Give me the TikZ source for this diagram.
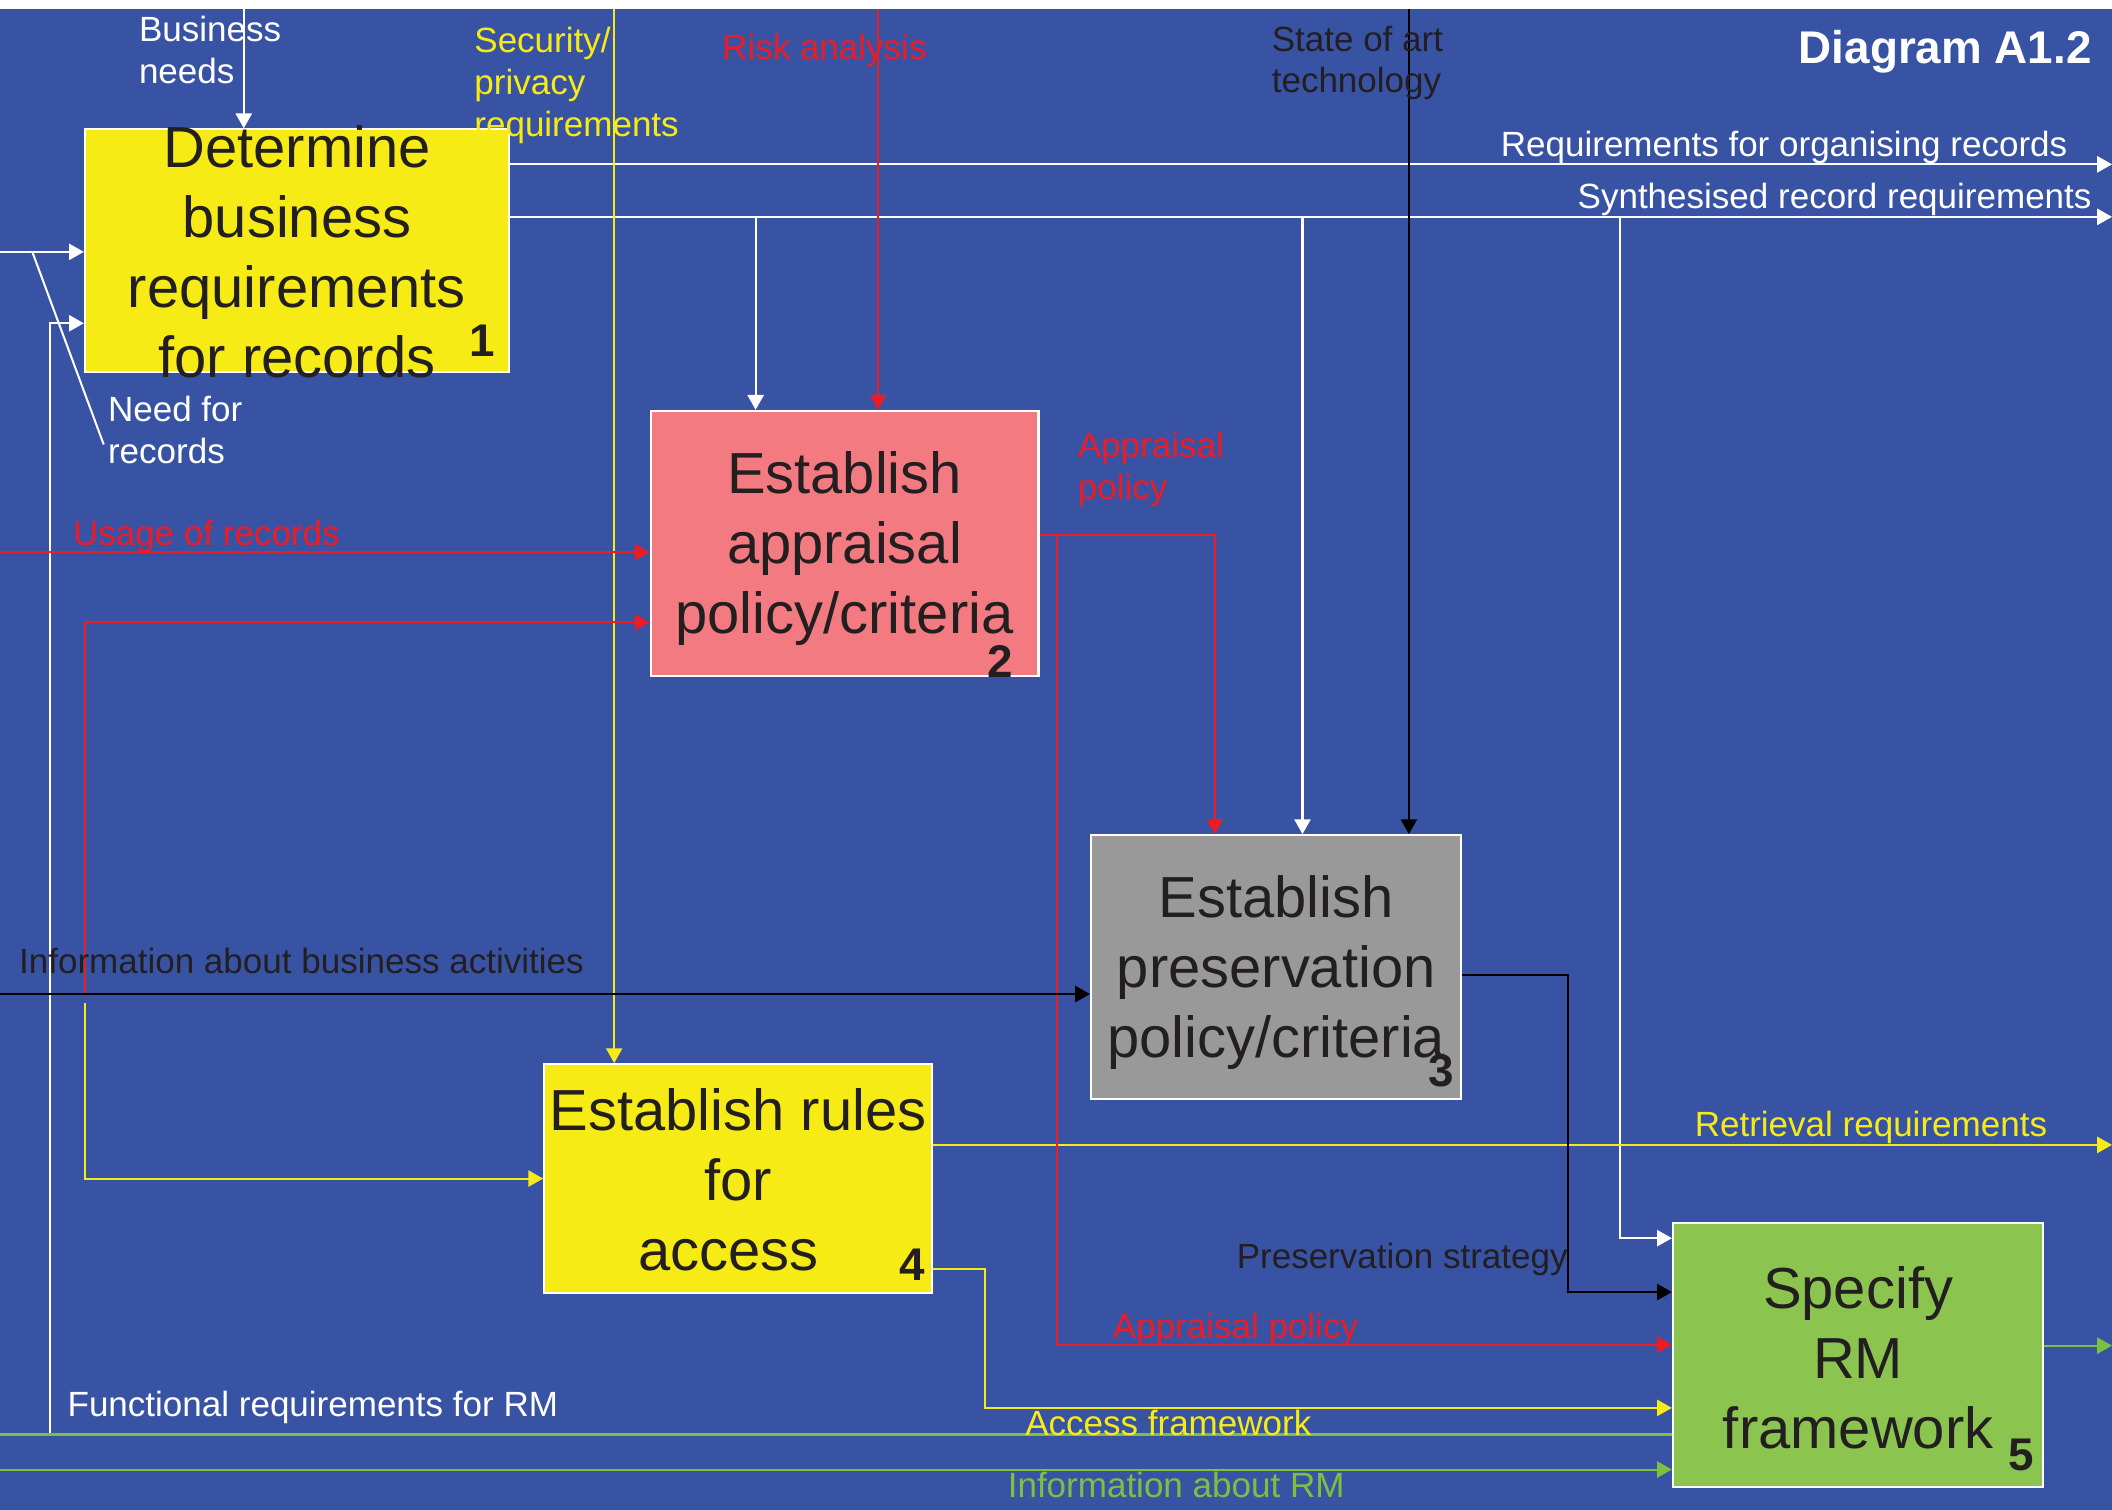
\documentclass[tikz,border=0pt]{standalone}
\usepackage{fontspec}
\setmainfont{Liberation Sans}
\usetikzlibrary{arrows.meta}
\usetikzlibrary{positioning, calc}

\definecolor{boardblue}{RGB}{57,83,164}
\definecolor{actyellow}{RGB}{246,235,20}
\definecolor{actpink}{RGB}{242,122,128}
\definecolor{actgrey}{RGB}{153,153,153}
\definecolor{actgreen}{RGB}{139,197,80}
\definecolor{flowred}{RGB}{237,28,36}
\definecolor{flowyellow}{RGB}{246,235,20}
\definecolor{flowgreen}{RGB}{122,193,66}
\definecolor{ink}{RGB}{35,31,32}

\begin{document}
\begin{tikzpicture}[x=1pt, y=-1pt, >={Triangle[length=11pt,width=12pt]}]

    % sheet: white strip on top, blue board below
    \useasboundingbox (0,0) rectangle (1568,1121);
    \fill[white] (0,0) rectangle (1568,1121);
    \fill[boardblue] (0,7) rectangle (1568,1121);

    % activity boxes, use the tuple for the centre
    \begin{scope}[every node/.style={rectangle,draw=white,line width=1.5pt,inner sep=0pt}]
    \node[fill=actyellow, minimum width=315, minimum height=180] (det) at (220.5,186) {};
    \node[fill=actpink, minimum width=288, minimum height=197] (appr) at (627,403.5) {};
    \node[fill=actgrey, minimum width=275, minimum height=196] (pres) at (947.5,718) {};
    \node[fill=actyellow, minimum width=288, minimum height=170] (acc) at (548,875) {};
    \node[fill=actgreen, minimum width=275, minimum height=196] (spec) at (1379.5,1006) {};
    \end{scope}

    % free ends on the sheet border
    \coordinate (bnTop) at (181,7);
    \coordinate (secTop) at (456,7);
    \coordinate (riskTop) at (652,7);
    \coordinate (artTop) at (1046,7);
    \coordinate (needL) at (0,187);
    \coordinate (usageL) at (0,410);
    \coordinate (infoL) at (0,738);
    \coordinate (funcL) at (0,1065);
    \coordinate (rmL) at (0,1091);
    \coordinate (orgR) at (1568,122);
    \coordinate (synR) at (1568,161);
    \coordinate (retR) at (1568,850);
    \coordinate (fwR) at (1568,999);

    % bends and branch points
    \coordinate (needKnee) at (24,187);
    \coordinate (needTip) at (77,330);
    \coordinate (funcUp) at (37,1065);
    \coordinate (loopR) at (63,738);
    \coordinate (loopY) at (63,745);
    \coordinate (synA) at (561,161);
    \coordinate (synB) at (967,161);
    \coordinate (synC) at (1203,161);
    \coordinate (apY) at (785,397);
    \coordinate (apX) at (902,397);
    \coordinate (psBend) at (1164,724);
    \coordinate (afBend) at (731,942);

    % entry points on the box sides
    \coordinate (detIn) at ($(det.west)+(0,54)$);
    \coordinate (apprIn) at ($(appr.west)+(0,58.5)$);
    \coordinate (specA) at ($(spec.north west)+(0,12)$);
    \coordinate (specB) at ($(spec.north west)+(0,52)$);
    \coordinate (specC) at ($(spec.north west)+(0,91)$);
    \coordinate (specD) at ($(spec.north west)+(0,138)$);

    % white flows
    \begin{scope}[line width=1.5pt, draw=white]
    \draw[->] (bnTop) -- (bnTop |- det.north);
    \draw[->] (needL) -- (needL -| det.west);
    \draw (needKnee) -- (needTip);
    \draw[->] (funcUp) |- (detIn);
    \draw[->] (det.east |- orgR) -- (orgR);
    \draw[->] (det.east |- synR) -- (synR);
    \draw[->] (synA) -- (synA |- appr.north);
    \draw[->] (synB) -- (synB |- pres.north);
    \draw[->] (synC) |- (specA);
    \end{scope}

    % green flows
    \begin{scope}[line width=1.5pt, draw=flowgreen]
    \draw (funcL) -- (funcL -| spec.west);
    \draw[->] (rmL) -- (rmL -| spec.west);
    \draw[->] (spec.east |- fwR) -- (fwR);
    \end{scope}

    % yellow flows
    \begin{scope}[line width=1.5pt, draw=flowyellow]
    \draw[->] (secTop) -- (secTop |- acc.north);
    \draw[->] (loopY) |- (acc.west);
    \draw[->] (acc.east |- retR) -- (retR);
    \draw[->] (acc.east |- afBend) -- (afBend) |- (specD);
    \end{scope}

    % red flows
    \begin{scope}[line width=1.5pt, draw=flowred]
    \draw[->] (riskTop) -- (riskTop |- appr.north);
    \draw[->] (usageL) -- (usageL -| appr.west);
    \draw[->] (loopR) |- (apprIn);
    \draw[->] (appr.east |- apX) -| (apX |- pres.north);
    \draw[->] (apY) |- (specC);
    \end{scope}

    % black flows
    \begin{scope}[line width=1.8pt, draw=black]
    \draw[->] (artTop) -- (artTop |- pres.north);
    \draw[->] (infoL) -- (infoL -| pres.west);
    \draw[->] (pres.east |- psBend) -- (psBend) |- (specB);
    \end{scope}

    % box texts
    \begin{scope}[every node/.style={align=center,text=ink,inner sep=0pt,font=\fontsize{43}{52}\selectfont}]
    \node (detTxt) at ($(det)+(0,1)$) {Determine\\business\\requirements\\for records};
    \node (apprTxt) at ($(appr)+(0,4)$) {Establish\\appraisal\\policy/criteria};
    \node (presTxt) at ($(pres)+(0,4)$) {Establish\\preservation\\policy/criteria};
    \node (accTxt) at ($(acc)+(0,1)$) {Establish rules\\for\\access\hspace*{14pt}};
    \node (specTxt) at ($(spec)+(0,2)$) {Specify\\RM\\framework};
    \end{scope}

    % box numbers
    \begin{scope}[every node/.style={anchor=base east,text=ink,inner sep=0pt,font=\bfseries\fontsize{34}{40}\selectfont}]
    \node (num1) at (368,265) {1};
    \node (num2) at (752,503) {2};
    \node (num3) at (1080,807) {3};
    \node (num4) at (687,951) {4};
    \node (num5) at (1510,1092) {5};
    \end{scope}

    % flow labels (base = baseline of the last line)
    \begin{scope}[every node/.style={anchor=base west,align=left,inner sep=0pt,font=\fontsize{26}{31}\selectfont}]
    \node[text=white] (bnLbl) at (103,62) {Business\\needs};
    \node[text=flowyellow] (secLbl) at (352,101) {Security/\\privacy\\requirements};
    \node[text=flowred] (riskLbl) at (536,44) {Risk analysis};
    \node[text=ink] (artLbl) at (944,69) {State of art\\technology};
    \node[text=white, anchor=base east] (orgLbl) at (1535,116) {Requirements for organising records};
    \node[text=white, anchor=base east] (synLbl) at (1553,155) {Synthesised record requirements};
    \node[text=white] (needLbl) at (80,344) {Need for\\records};
    \node[text=flowred] (usageLbl) at (54,405) {Usage of records};
    \node[text=flowred] (apLbl) at (800,371) {Appraisal\\policy};
    \node[text=ink] (infoLbl) at (14,723) {Information about business activities};
    \node[text=flowyellow, anchor=base east] (retLbl) at (1520,844) {Retrieval requirements};
    \node[text=ink] (psLbl) at (918,942) {Preservation strategy};
    \node[text=flowred] (ap2Lbl) at (826,994) {Appraisal policy};
    \node[text=white] (funcLbl) at (50,1052) {Functional requirements for RM};
    \node[text=flowyellow] (afLbl) at (761,1066) {Access framework};
    \node[text=flowgreen] (rmLbl) at (748,1112) {Information about RM};
    \end{scope}

    % sheet title
    \node[anchor=base east, text=white, inner sep=0pt, font=\bfseries\fontsize{34}{40}\selectfont] (title) at (1553,47) {Diagram A1.2};

\end{tikzpicture}
\end{document}
